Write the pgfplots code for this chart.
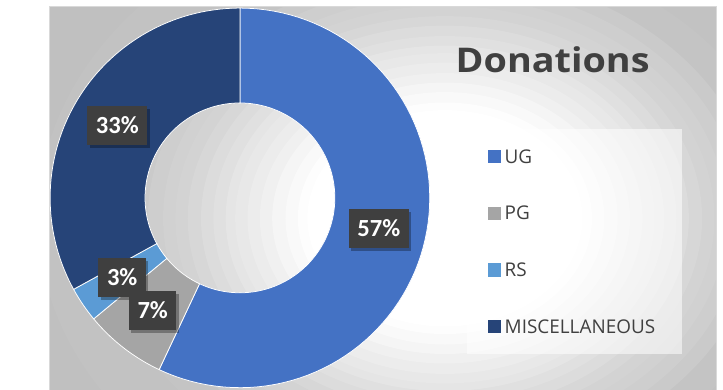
\documentclass[border=0pt]{standalone}
\usepackage{pgfplots}
\pgfplotsset{compat=1.18}
\usepackage{pgfplotstable}
\usepackage{fontspec}
\setmainfont{Open Sans}
\newfontfamily\carlito{Carlito}
\newfontfamily\titlefont[FakeStretch=1.11]{Open Sans}

\definecolor{ug}{HTML}{4472C4}
\definecolor{pg}{HTML}{A5A5A5}
\definecolor{rs}{HTML}{5B9BD5}
\definecolor{misc}{HTML}{264478}
\definecolor{txt}{HTML}{404040}
\definecolor{lblbg}{HTML}{3F3F3F}
\definecolor{frame}{HTML}{D9D9D9}

\pgfplotstableread{
label value
UG 57
PG 7
RS 3
MISCELLANEOUS 33
}\donutdata

\begin{document}
\pgfplotstablegetelem{0}{value}\of\donutdata \let\vA\pgfplotsretval
\pgfplotstablegetelem{1}{value}\of\donutdata \let\vB\pgfplotsretval
\pgfplotstablegetelem{2}{value}\of\donutdata \let\vC\pgfplotsretval
\pgfplotstablegetelem{3}{value}\of\donutdata \let\vD\pgfplotsretval
\pgfmathsetmacro\dTot{\vA+\vB+\vC+\vD}
\pgfmathsetmacro\dUnit{360/\dTot}
\pgfmathsetmacro\aA{90}
\pgfmathsetmacro\bA{\aA-\dUnit*\vA}
\pgfmathsetmacro\aB{\bA}
\pgfmathsetmacro\bB{\aB-\dUnit*\vB}
\pgfmathsetmacro\aC{\bB}
\pgfmathsetmacro\bC{\aC-\dUnit*\vC}
\pgfmathsetmacro\aD{\bC}
\pgfmathsetmacro\bD{\aD-\dUnit*\vD}
\pgfmathsetmacro\mA{(\aA+\bA)/2}
\pgfmathsetmacro\mB{(\aB+\bB)/2}
\pgfmathsetmacro\mC{(\aC+\bC)/2}
\pgfmathsetmacro\mD{(\aD+\bD)/2}
\def\dcx{214}\def\dcy{201.5}\def\dRo{200}\def\dRi{100}\def\dRm{150}
\begin{tikzpicture}
\begin{axis}[
  at={(0,0)}, anchor=origin,
  x=1bp, y=1bp,
  xmin=0, xmax=723, ymin=0, ymax=410,
  xtick=\empty, ytick=\empty, hide axis, clip=false,
  legend style={at={(axis cs:475,252)}, anchor=north west, draw=none, fill=none,
    inner sep=0pt, outer sep=0pt, row sep=45.7bp, column sep=4bp,
    font=\fontsize{20}{24}\selectfont, text=txt,
    nodes={inner sep=0bp, text height=14bp, text depth=0bp}},
  legend cell align=left,
  legend image code/.code={\fill[#1, draw=none] (0bp,-7bp) rectangle (14bp,7bp);},
  every axis plot/.append style={draw=white, line width=0.8bp},
]
\coordinate (pageLL) at (axis cs:0,0);
\coordinate (pageUR) at (axis cs:723,410);
% background of the chart area: stepped radial gradient
\begin{scope}
\clip (axis cs:13,-5) rectangle (axis cs:716,403);
\fill[black!24.7] (axis cs:13,-5) rectangle (axis cs:716,403);
\fill[black!23.9] (axis cs:430,180) ellipse [x radius=429bp, y radius=338bp];
\fill[black!23.1] (axis cs:430,180) ellipse [x radius=363bp, y radius=286bp];
\fill[black!20.8] (axis cs:430,180) ellipse [x radius=330bp, y radius=260bp];
\fill[black!19.4] (axis cs:430,180) ellipse [x radius=313bp, y radius=247bp];
\fill[black!18.2] (axis cs:430,180) ellipse [x radius=297bp, y radius=234bp];
\fill[black!17.3] (axis cs:430,180) ellipse [x radius=284bp, y radius=224bp];
\fill[black!15.5] (axis cs:430,180) ellipse [x radius=271bp, y radius=213bp];
\fill[black!13.8] (axis cs:430,180) ellipse [x radius=257bp, y radius=203bp];
\fill[black!12.0] (axis cs:430,180) ellipse [x radius=244bp, y radius=192bp];
\fill[black!10.3] (axis cs:430,180) ellipse [x radius=231bp, y radius=182bp];
\fill[black!9.0] (axis cs:430,180) ellipse [x radius=221bp, y radius=174bp];
\fill[black!7.5] (axis cs:430,180) ellipse [x radius=208bp, y radius=164bp];
\fill[black!5.7] (axis cs:430,180) ellipse [x radius=195bp, y radius=153bp];
\fill[black!4.1] (axis cs:430,180) ellipse [x radius=182bp, y radius=143bp];
\fill[black!2.5] (axis cs:430,180) ellipse [x radius=168bp, y radius=133bp];
\fill[black!0.8] (axis cs:430,180) ellipse [x radius=155bp, y radius=122bp];
\fill[white] (axis cs:430,180) ellipse [x radius=145bp, y radius=114bp];
\end{scope}
\draw[frame, line width=0.8bp] (axis cs:13,-5) -- (axis cs:13,403) -- (axis cs:716,403) -- (axis cs:716,-5);
% legend box
\fill[white, opacity=0.55] (axis cs:453,37) rectangle (axis cs:680,274);

\addplot[fill=ug, samples at={0,...,161}, variable=\t]
 ({\dcx + (\t<80.5 ? \dRo*cos(\aA+(\bA-\aA)*\t/80) : \dRi*cos(\bA+(\aA-\bA)*(\t-81)/80))},
  {\dcy + (\t<80.5 ? \dRo*sin(\aA+(\bA-\aA)*\t/80) : \dRi*sin(\bA+(\aA-\bA)*(\t-81)/80))}) -- cycle;
\addlegendentry{UG}
\addplot[fill=pg, samples at={0,...,161}, variable=\t]
 ({\dcx + (\t<80.5 ? \dRo*cos(\aB+(\bB-\aB)*\t/80) : \dRi*cos(\bB+(\aB-\bB)*(\t-81)/80))},
  {\dcy + (\t<80.5 ? \dRo*sin(\aB+(\bB-\aB)*\t/80) : \dRi*sin(\bB+(\aB-\bB)*(\t-81)/80))}) -- cycle;
\addlegendentry{PG}
\addplot[fill=rs, samples at={0,...,161}, variable=\t]
 ({\dcx + (\t<80.5 ? \dRo*cos(\aC+(\bC-\aC)*\t/80) : \dRi*cos(\bC+(\aC-\bC)*(\t-81)/80))},
  {\dcy + (\t<80.5 ? \dRo*sin(\aC+(\bC-\aC)*\t/80) : \dRi*sin(\bC+(\aC-\bC)*(\t-81)/80))}) -- cycle;
\addlegendentry{RS}
\addplot[fill=misc, samples at={0,...,161}, variable=\t]
 ({\dcx + (\t<80.5 ? \dRo*cos(\aD+(\bD-\aD)*\t/80) : \dRi*cos(\bD+(\aD-\bD)*(\t-81)/80))},
  {\dcy + (\t<80.5 ? \dRo*sin(\aD+(\bD-\aD)*\t/80) : \dRi*sin(\bD+(\aD-\bD)*(\t-81)/80))}) -- cycle;
\addlegendentry{MISCELLANEOUS}

\tikzset{lbl/.style={fill=lblbg, text=white, font=\carlito\bfseries\fontsize{26}{30}\selectfont,
  inner xsep=9bp, inner ysep=12bp, text height=17bp, text depth=0bp},
  lblsh/.style={lbl, fill=black, text=black, opacity=0.3, xshift=2.5bp, yshift=-3bp}}
\node[lblsh] at (axis cs:{\dcx+\dRm*cos(\mA)},{\dcy+\dRm*sin(\mA)}) {\vA\%};
\node[lbl] at (axis cs:{\dcx+\dRm*cos(\mA)},{\dcy+\dRm*sin(\mA)}) {\vA\%};
\node[lblsh] at (axis cs:{\dcx+\dRm*cos(\mD)},{\dcy+\dRm*sin(\mD)}) {\vD\%};
\node[lbl] at (axis cs:{\dcx+\dRm*cos(\mD)},{\dcy+\dRm*sin(\mD)}) {\vD\%};
\node[lblsh] at (axis cs:{\dcx+\dRm*cos(\mC)},{\dcy+\dRm*sin(\mC)}) {\vC\%};
\node[lbl] at (axis cs:{\dcx+\dRm*cos(\mC)},{\dcy+\dRm*sin(\mC)}) {\vC\%};
\node[lblsh] at (axis cs:{\dcx+\dRm*cos(\mB)},{\dcy+\dRm*sin(\mB)}) {\vB\%};
\node[lbl] at (axis cs:{\dcx+\dRm*cos(\mB)},{\dcy+\dRm*sin(\mB)}) {\vB\%};

\node[anchor=base, text=txt, inner sep=0pt] at (axis cs:543.5,333.3)
  {\titlefont\fontsize{36}{40}\selectfont\bfseries Donations};
\end{axis}
\pgfresetboundingbox
\useasboundingbox (pageLL) rectangle (pageUR);
\end{tikzpicture}
\end{document}
